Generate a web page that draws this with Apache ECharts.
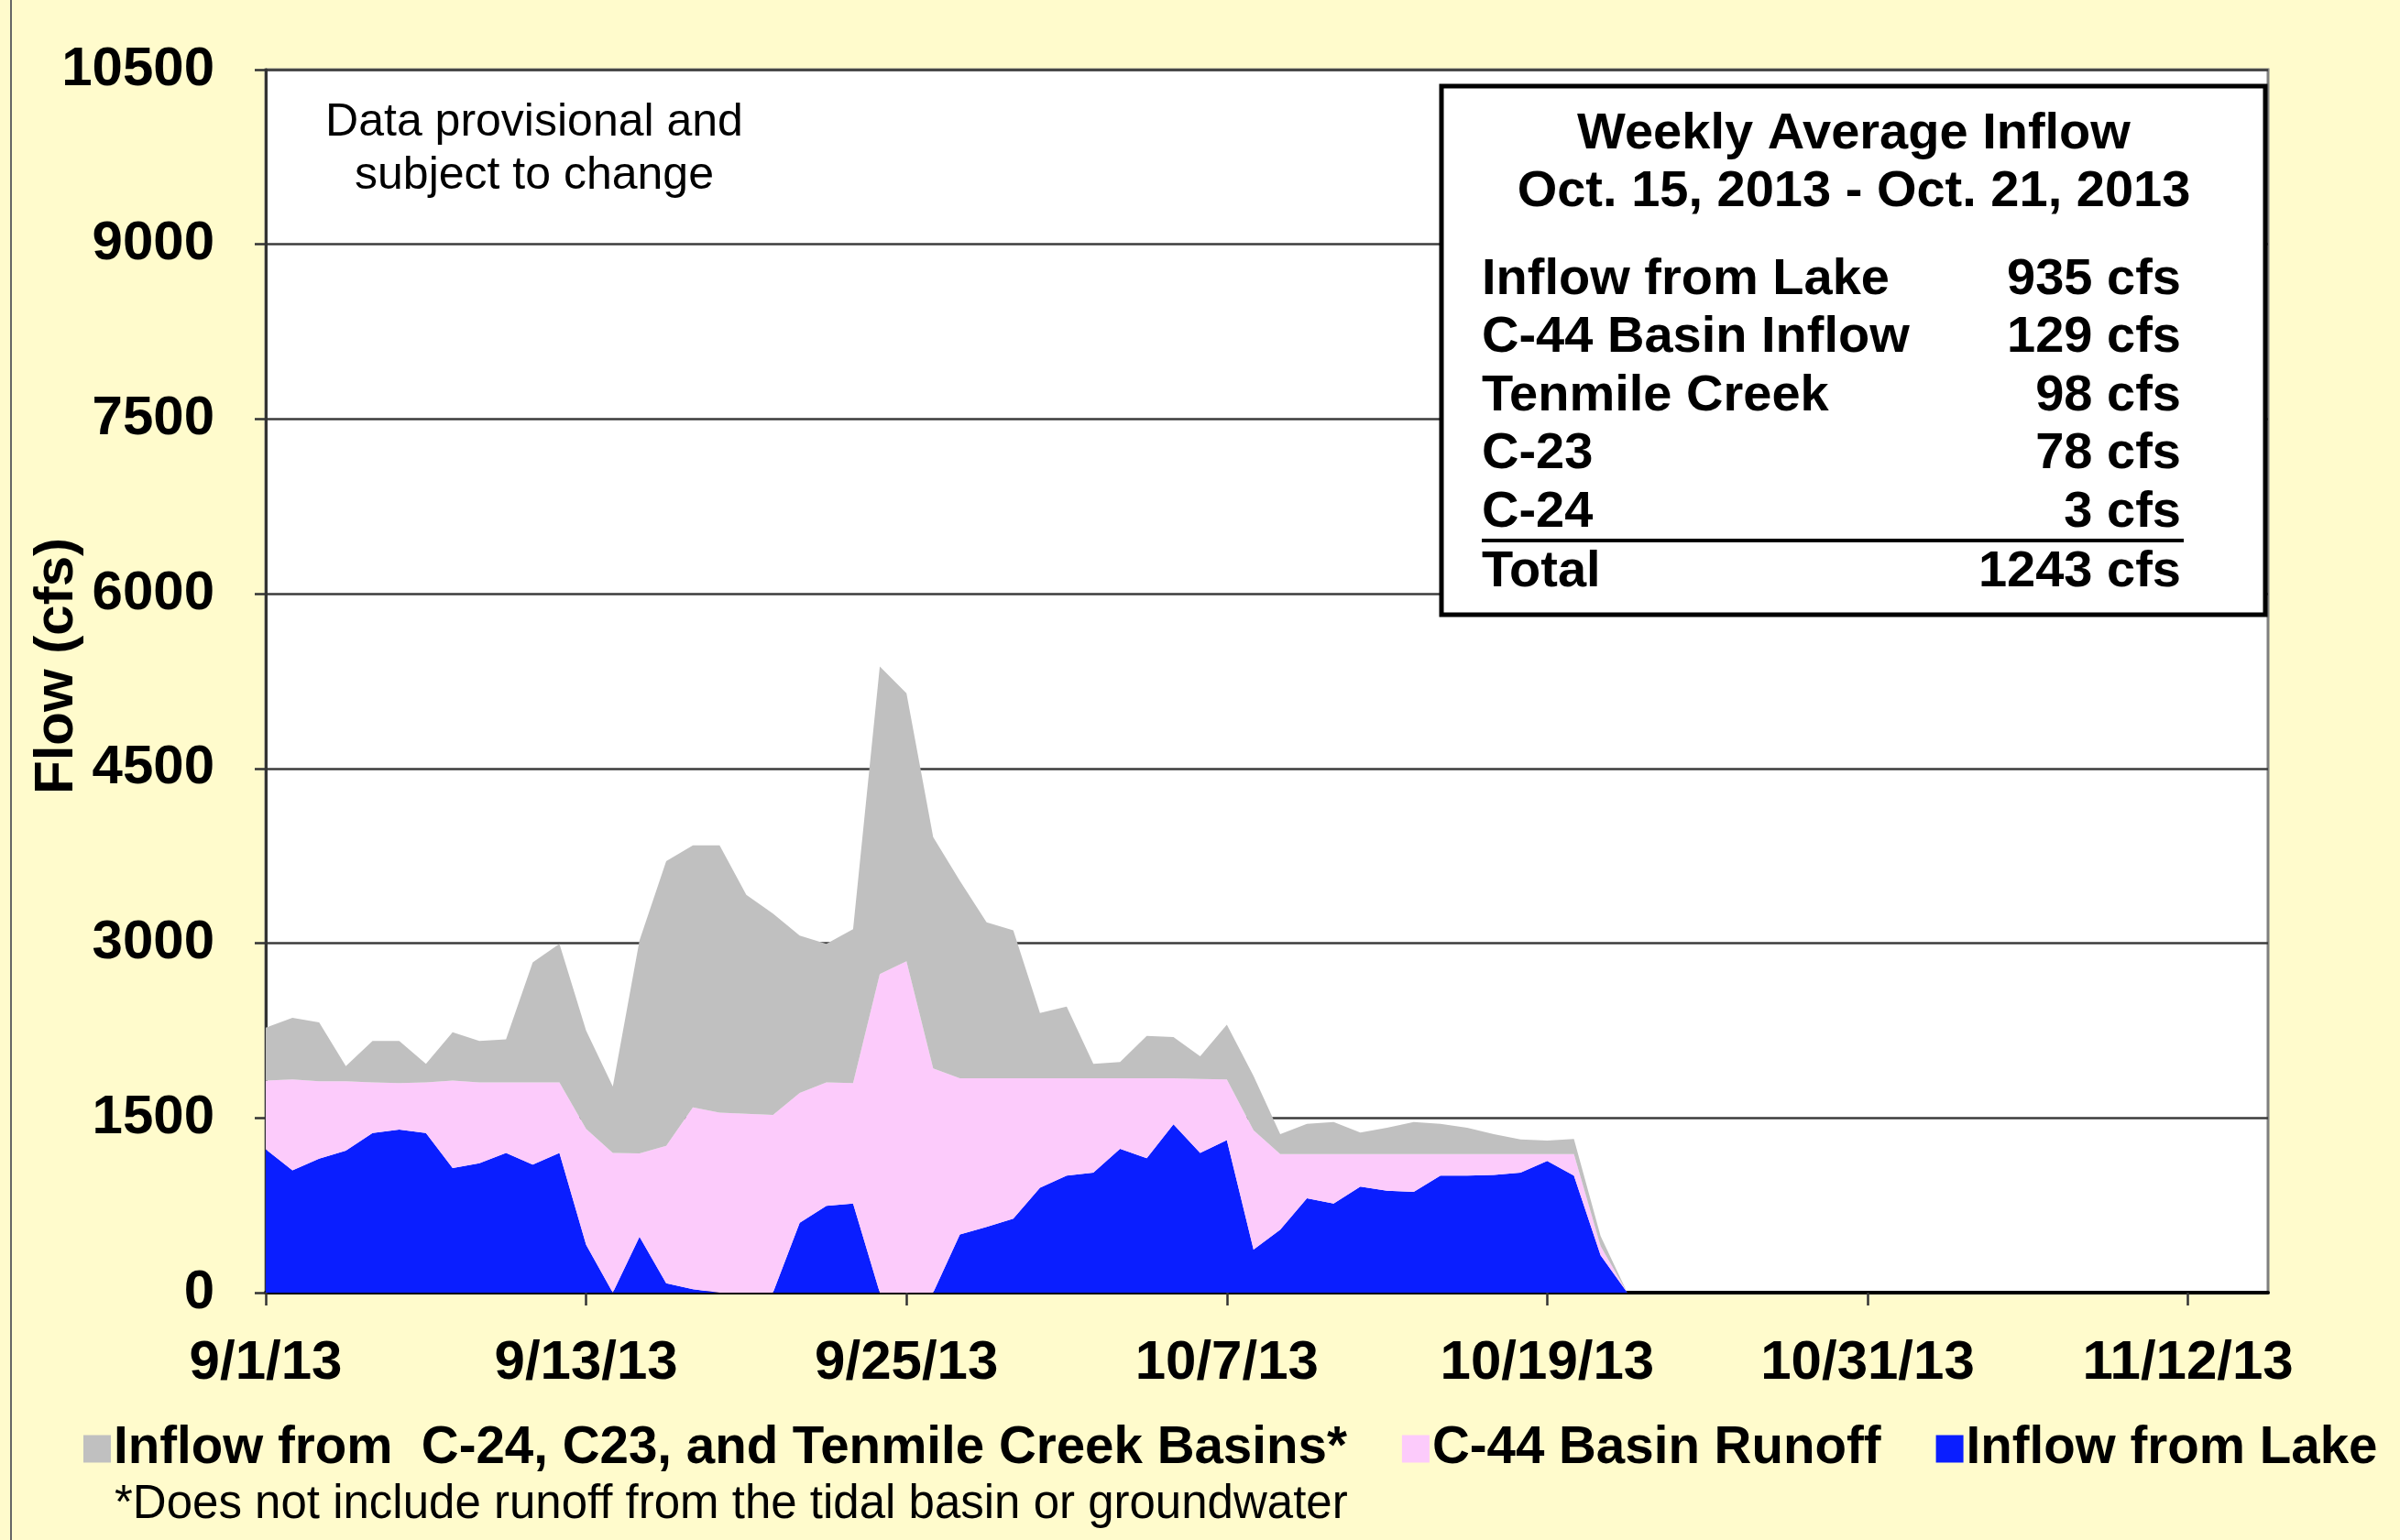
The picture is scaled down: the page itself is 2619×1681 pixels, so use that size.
<!DOCTYPE html>
<html>
<head>
<meta charset="utf-8">
<script src="https://cdn.jsdelivr.net/npm/echarts@6/dist/echarts.min.js"></script>
<style>
  html, body { margin: 0; padding: 0; background: #FFFBCC; }
  #chart { width: 2619px; height: 1681px; }
</style>
</head>
<body>
<div id="chart"></div>
<script>
// daily flow, 9/1/13 .. 10/22/13 (cfs)
const lakeFlow = [1230, 1050, 1150, 1220, 1370, 1400, 1370, 1070, 1110, 1200, 1100, 1200, 410, 0, 480, 80, 30, 0, 0, 0,
  600, 745, 765, 0, 0, 0, 500, 565, 635, 900, 1005, 1030, 1235, 1155, 1445, 1200, 1310, 370, 540, 810,
  765, 910, 875, 865, 1005, 1005, 1010, 1030, 1130, 1005, 320, 0]
const c44Runoff = [590, 780, 665, 595, 435, 400, 435, 750, 695, 605, 705, 605, 995, 1200, 715, 1180, 1560, 1545, 1535, 1525,
  1115, 1060, 1035, 2735, 2845, 1925, 1340, 1275, 1205, 940, 835, 810, 605, 685, 395, 635, 520, 1025, 650, 380,
  425, 280, 315, 325, 185, 185, 180, 160, 60, 185, 80, 0]
const otherBasins = [455, 530, 505, 130, 355, 360, 160, 415, 355, 370, 1030, 1190, 845, 570, 1830, 2445, 2250, 2295, 1880, 1730,
  1350, 1190, 1320, 2640, 2300, 1985, 1695, 1340, 1270, 560, 615, 125, 140, 365, 355, 195, 470, 465, 170, 260,
  275, 185, 225, 275, 260, 225, 170, 125, 115, 130, 85, 0]

const seriesNames = ['Inflow from Lake', 'C-44 Basin Runoff', 'Inflow from  C-24, C23, and Tenmile Creek Basins*']
const seriesColors = ['#0a1eff', '#fccbfb', '#c0c0c0']

// table in the box
const boxTitle = ['Weekly Average Inflow', 'Oct. 15, 2013 - Oct. 21, 2013']
const tableLabels = ['Inflow from Lake', 'C-44 Basin Inflow', 'Tenmile Creek', 'C-23', 'C-24', 'Total']
const tableValues = ['935 cfs', '129 cfs', '98 cfs', '78 cfs', '3 cfs', '1243 cfs']

// x categories: every day 9/1/13 .. 11/15/13
const categories = []
for (let i = 0; i <= 75; i++) {
  const d = new Date(2013, 8, 1 + i)
  categories.push((d.getMonth() + 1) + '/' + d.getDate() + '/13')
}

const FONT = '"Liberation Sans", Arial, sans-serif'
const chart = echarts.init(document.getElementById('chart'))

const rowY = [306, 369, 433, 496, 560, 625]
const graphics = [
  { type: 'line', shape: { x1: 12, y1: 0, x2: 12, y2: 1681 }, style: { stroke: '#666', lineWidth: 2 } },
  // y axis title
  {
    type: 'text', z: 100, x: 62, y: 727, rotation: Math.PI / 2,
    style: { text: 'Flow (cfs)', fill: '#000', font: 'bold 60px ' + FONT,
      align: 'center', verticalAlign: 'middle', textAlign: 'center', textVerticalAlign: 'middle' }
  },
  {
    type: 'text', z: 100,
    style: { text: 'Data provisional and\nsubject to change', x: 583, y: 163, fill: '#000',
      font: '50px ' + FONT, lineHeight: 58, align: 'center', verticalAlign: 'middle', textAlign: 'center', textVerticalAlign: 'middle' }
  },
  { type: 'rect', z: 100, shape: { x: 1573, y: 94, width: 899, height: 577 }, style: { fill: '#fff', stroke: '#000', lineWidth: 5 } },
  { type: 'line', z: 101, shape: { x1: 1617, y1: 590, x2: 2383, y2: 590 }, style: { stroke: '#000', lineWidth: 4 } },
  {
    type: 'text', z: 101,
    style: { text: '*Does not include runoff from the tidal basin or groundwater', x: 125, y: 1643, fill: '#000',
      font: '51px ' + FONT, align: 'left', verticalAlign: 'middle', textAlign: 'left', textVerticalAlign: 'middle' }
  }
]
boxTitle.forEach((t, i) => {
  graphics.push({
    type: 'text', z: 101,
    style: { text: t, x: 2023, y: 147 + i * 63, fill: '#000', font: 'bold 56px ' + FONT,
      align: 'center', verticalAlign: 'middle', textAlign: 'center', textVerticalAlign: 'middle' }
  })
})
tableLabels.forEach((t, i) => {
  graphics.push({
    type: 'text', z: 101,
    style: { text: t, x: 1617, y: rowY[i], fill: '#000', font: 'bold 56px ' + FONT,
      align: 'left', verticalAlign: 'middle', textAlign: 'left', textVerticalAlign: 'middle' }
  })
  graphics.push({
    type: 'text', z: 101,
    style: { text: tableValues[i], x: 2380, y: rowY[i], fill: '#000', font: 'bold 56px ' + FONT,
      align: 'right', verticalAlign: 'middle', textAlign: 'right', textVerticalAlign: 'middle' }
  })
})

const seriesData = [lakeFlow, c44Runoff, otherBasins]
const option = {
  backgroundColor: '#FFFBCC',
  animation: false,
  textStyle: { fontFamily: FONT },
  grid: {
    left: 290, right: 144, top: 76, bottom: 270,
    outerBoundsMode: 'none',
    containLabel: false,
    show: true, backgroundColor: '#fff', borderColor: '#7f7f7f', borderWidth: 3
  },
  legend: {
    data: [seriesNames[2], seriesNames[1], seriesNames[0]],
    left: 86, top: 1548,
    icon: 'rect', itemWidth: 30, itemHeight: 30, itemGap: 60,
    textStyle: { fontSize: 56.5, fontWeight: 'bold', color: '#000', fontFamily: FONT, padding: [0, 0, 0, -2] }
  },
  xAxis: {
    type: 'category',
    data: categories,
    boundaryGap: false,
    axisLine: { lineStyle: { color: '#000', width: 4 } },
    axisTick: { show: true, interval: 11, length: 14, lineStyle: { color: '#333', width: 2.5 } },
    axisLabel: { interval: 11, margin: 47, fontSize: 60, fontWeight: 'bold', color: '#000', fontFamily: FONT },
    splitLine: { show: false }
  },
  yAxis: {
    type: 'value',
    min: 0, max: 10500, interval: 1500,
    axisLine: { show: true, lineStyle: { color: '#333', width: 3 } },
    axisTick: { show: true, length: 12, lineStyle: { color: '#333', width: 2.5 } },
    axisLabel: { margin: 56, fontSize: 60, fontWeight: 'bold', color: '#000', fontFamily: FONT, formatter: v => String(v) },
    splitLine: { lineStyle: { color: '#3c3c3c', width: 2.5 } }
  },
  series: seriesNames.map((name, i) => ({
    name,
    type: 'line',
    stack: 'flow',
    data: seriesData[i],
    showSymbol: false,
    symbol: 'none',
    lineStyle: { width: 0 },
    itemStyle: { color: seriesColors[i] },
    areaStyle: { color: seriesColors[i], opacity: 1 }
  })),
  graphic: graphics
}
chart.setOption(option)
window.addEventListener('resize', () => {
  chart.resize()
})
</script>
</body>
</html>
